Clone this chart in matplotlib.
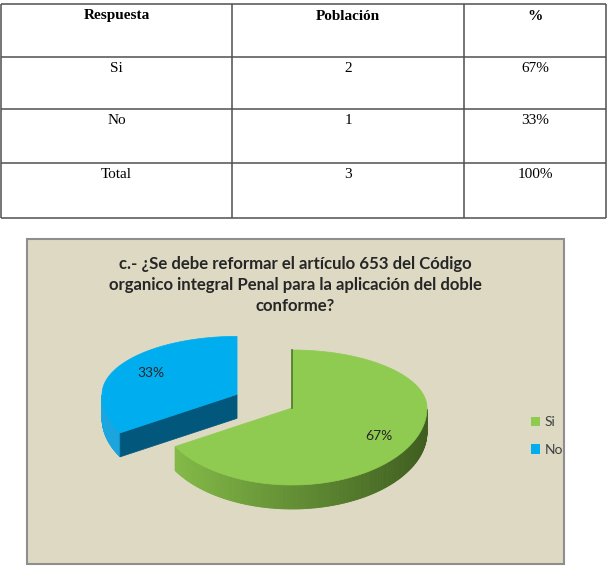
import numpy as np
import matplotlib
matplotlib.use('Agg')
import matplotlib.pyplot as plt
from matplotlib.patches import Polygon, Rectangle
from matplotlib.colors import to_rgb

# table data
header = ['Respuesta', 'Población', '%']
respuestas = ['Si', 'No', 'Total']
poblacion = [2, 1, 3]
porcentaje = ['67%', '33%', '100%']

# pie data
labels = ['Si', 'No']
values = [2, 1]
colors_top = ['#8FCB50', '#00AEEF']
colors_side = [('#88C14A', '#3F5E20'), ('#1CA6DF', '#0E86B8')]
colors_cut = ['#4E7A2A', '#01587C']
title = ('c.- ¿Se debe reformar el artículo 653 del Código\n'
         'organico integral Penal para la aplicación del doble\n'
         'conforme?')

fig = plt.figure(figsize=(6.09, 5.79), dpi=100)
fig.patch.set_facecolor('white')
ax = fig.add_axes([0, 0, 1, 1])
ax.set_xlim(0, 609)
ax.set_ylim(579, 0)
ax.axis('off')

# ---- table ----
col_edges = [1, 232, 464, 606]
row_edges = [4, 57, 109, 163, 218]
ax.hlines(row_edges, col_edges[0], col_edges[-1], color='#505050', lw=1.1)
ax.vlines(col_edges, row_edges[0], row_edges[-1], color='#505050', lw=1.1)

rows = [header] + [[r, str(p), pc] for r, p, pc in zip(respuestas, poblacion, porcentaje)]
for i, row in enumerate(rows):
    for j, txt in enumerate(row):
        xc = (col_edges[j] + col_edges[j + 1]) / 2
        ax.text(xc, row_edges[i] + 12, txt, ha='center', va='center',
                family='Liberation Serif', fontsize=11,
                fontweight='bold' if i == 0 else 'normal', color='black')

# ---- chart box ----
ax.add_patch(Rectangle((27, 239), 537, 325, facecolor='#DDD9C3',
                       edgecolor='#8E8E8E', lw=1.5))

ax.text(295, 285, title, ha='center', va='center', family='Lato',
        fontweight='bold', fontsize=12.1, color='#262626', linespacing=1.38)

# ---- 3D pie ----
cx, cy = 292, 408
A, B_BACK, B_FRONT = 135, 58, 77
DEPTH = 24
EXPLODE = [0.0, 0.47]


def pt(x0, y0, t, r=1.0):
    b = B_BACK if np.sin(t) > 0 else B_FRONT
    return x0 + r * A * np.cos(t), y0 - r * b * np.sin(t)


def mix(c1, c2, f):
    c1, c2 = np.array(to_rgb(c1)), np.array(to_rgb(c2))
    return tuple(c1 + (c2 - c1) * f)


total = sum(values)
bounds = []
start = 90.0
for v in values:
    end = start - 360.0 * v / total
    bounds.append((end, start))
    start = end

# draw exploded / back slice first
order = [1, 0]
for k in order:
    lo, hi = np.radians(bounds[k][0]), np.radians(bounds[k][1])
    mid = (lo + hi) / 2
    ox, oy = pt(cx, cy, mid, EXPLODE[k])
    ts = np.linspace(lo, hi, 300)

    # outer curved side (front half only), shaded left->right
    front = ts[np.sin(ts) <= 0]
    if len(front) > 1:
        for t0, t1 in zip(front[:-1], front[1:]):
            p0, p1 = pt(ox, oy, t0), pt(ox, oy, t1)
            f = (1 - np.cos((t0 + t1) / 2)) / 2
            col = mix(colors_side[k][1], colors_side[k][0], f)
            ax.add_patch(Polygon([p0, p1, (p1[0], p1[1] + DEPTH),
                                  (p0[0], p0[1] + DEPTH)],
                                 closed=True, facecolor=col, edgecolor=col, lw=0.6))

    # radial cut faces facing the viewer
    for t, normal in ((hi, hi + np.pi / 2), (lo, lo - np.pi / 2)):
        if np.sin(normal) < -1e-6:
            e = pt(ox, oy, t)
            ax.add_patch(Polygon([(ox, oy), e, (e[0], e[1] + DEPTH), (ox, oy + DEPTH)],
                                 closed=True, facecolor=colors_cut[k],
                                 edgecolor=colors_cut[k], lw=0.5))

    # top face
    top = [(ox, oy)] + [pt(ox, oy, t) for t in ts]
    ax.add_patch(Polygon(top, closed=True, facecolor=colors_top[k],
                         edgecolor=colors_top[k], lw=0.5))
    if k == 0:
        e = pt(ox, oy, hi)
        ax.plot([ox, e[0]], [oy, e[1]], color=colors_cut[k], lw=1.2)

    lx, ly = pt(ox, oy, mid, 0.74)
    ax.text(lx, ly, f'{round(100 * values[k] / total)}%', ha='center', va='center',
            family='Lato', fontsize=10, color='#262626')

# ---- legend ----
handles = [Rectangle((0, 0), 1, 1, facecolor=c, edgecolor='none') for c in colors_top]
leg = ax.legend(handles, labels, loc='center left', bbox_to_anchor=(518 / 609, 1 - 436 / 579),
                frameon=False, handlelength=0.7, handleheight=0.7, handletextpad=0.3,
                labelspacing=1.1, prop={'family': 'Lato', 'size': 10})
for t in leg.get_texts():
    t.set_color('#404040')

fig.savefig('out.png', dpi=100, facecolor='white')
